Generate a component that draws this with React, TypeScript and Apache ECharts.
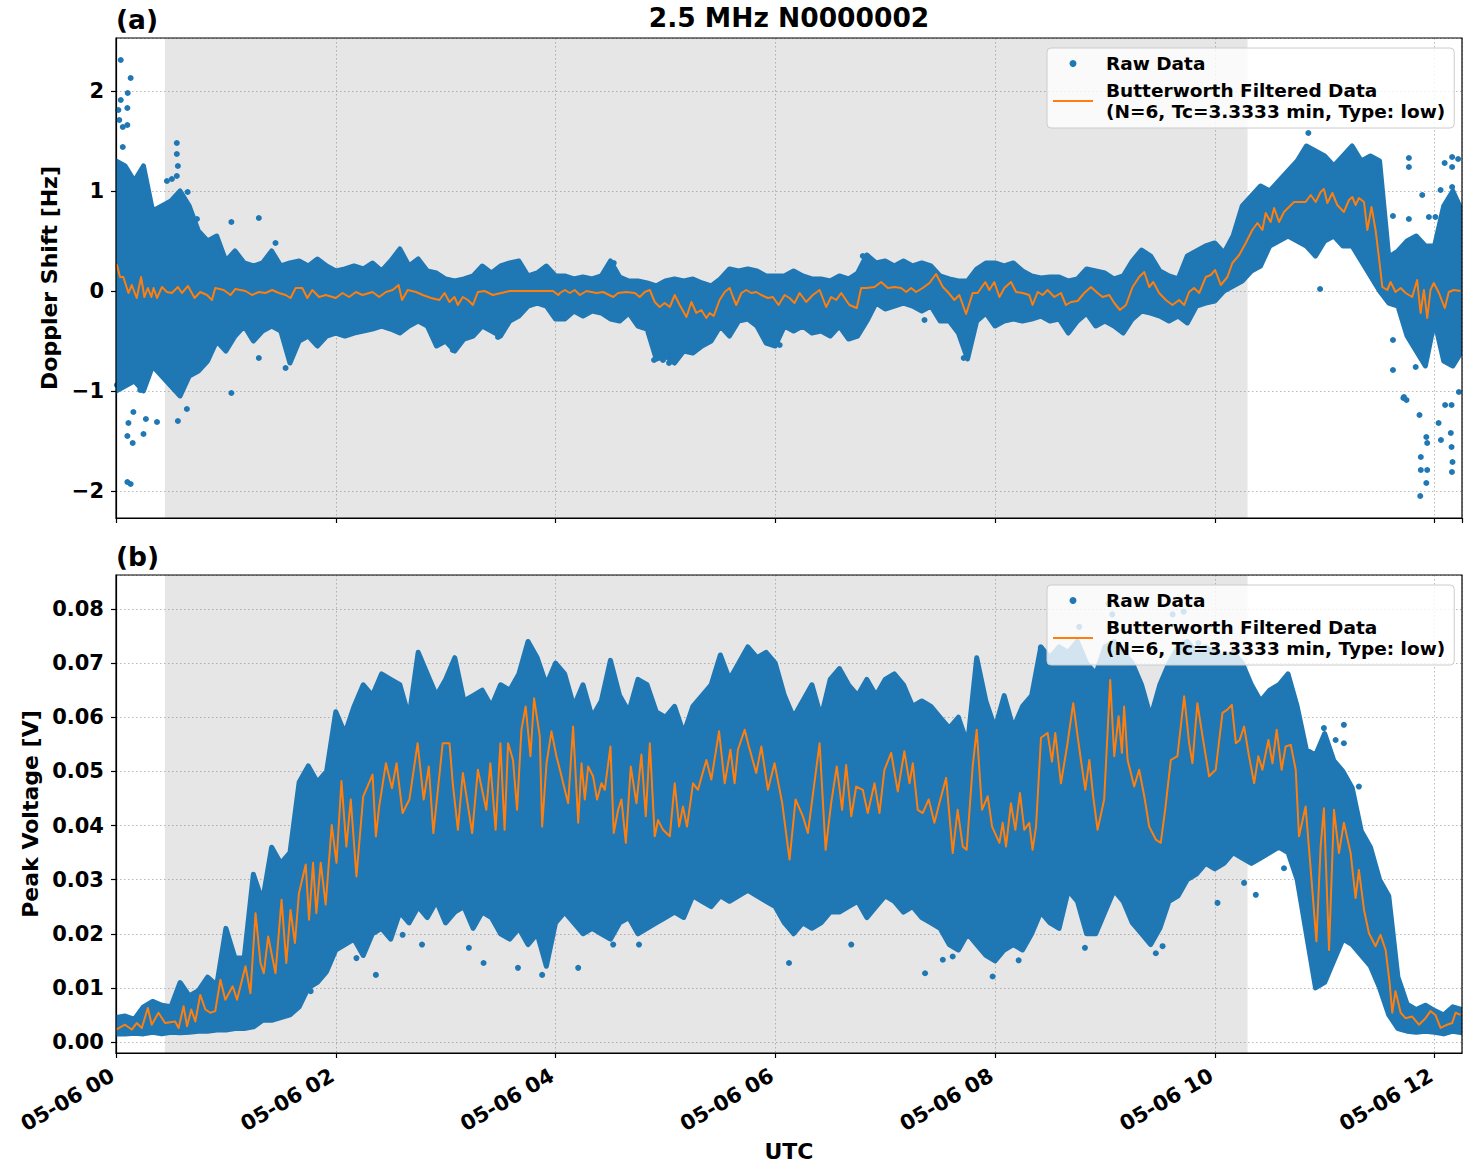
import React, { useEffect, useRef } from 'react';
import * as echarts from 'echarts';

const BLUE = '#1f77b4';
const ORANGE = '#ff7f0e';
const FONT = 'DejaVu Sans';

const TITLE = '2.5 MHz N0000002';
const RAW_NAME = 'Raw Data';
const FILT_NAME = 'Butterworth Filtered Data\n(N=6, Tc=3.3333 min, Type: low)';

// x axis runs in minutes after 05-06 00:00 UTC
const X_MIN = 0;
const X_MAX = 735;
const X_TICK_STEP = 120;
const X_TICK_LABELS = ['05-06 00', '05-06 02', '05-06 04', '05-06 06', '05-06 08', '05-06 10', '05-06 12'];
// shaded interval (minutes)
const SHADE_START = 26.7;
const SHADE_END = 617.9;

// dense raw-data envelope, one value per 5-minute bin starting at 00:00
const BIN_MINUTES = 5;

// (a) Doppler shift [Hz]
const DOPPLER_HIGH = [
  1.3, 1.25, 1.1, 1.25, 0.8, 0.85, 0.9, 1.0, 0.85, 0.6, 0.5, 0.55, 0.3, 0.4, 0.28, 0.25, 0.28, 0.4, 0.25, 0.28,
  0.3, 0.25, 0.32, 0.25, 0.2, 0.22, 0.25, 0.22, 0.28, 0.2, 0.3, 0.42, 0.25, 0.32, 0.2, 0.18, 0.12, 0.1, 0.12, 0.15,
  0.25, 0.18, 0.25, 0.28, 0.3, 0.15, 0.18, 0.25, 0.15,
  0.15, 0.12, 0.14, 0.12, 0.15, 0.3, 0.14, 0.1, 0.1, 0.08, 0.05, 0.1, 0.12, 0.1, 0.12, 0.08, 0.05, 0.12, 0.22, 0.2,
  0.22, 0.2, 0.15, 0.15, 0.15, 0.2, 0.15, 0.12, 0.12, 0.1, 0.15, 0.12, 0.18, 0.36, 0.28, 0.3, 0.25, 0.3, 0.25, 0.28,
  0.25, 0.15, 0.12, 0.1, 0.1, 0.22, 0.28, 0.28, 0.25, 0.28,
  0.2, 0.15, 0.13, 0.14, 0.14, 0.1, 0.12, 0.22, 0.2, 0.18, 0.12, 0.15, 0.3, 0.41, 0.35, 0.2, 0.15, 0.12, 0.35, 0.4,
  0.45, 0.48, 0.38, 0.55, 0.85, 0.95, 1.05, 1.0, 1.1, 1.2, 1.3, 1.45, 1.4, 1.35, 1.25, 1.35, 1.45, 1.3, 1.35, 1.3,
  0.34, 0.4, 0.5, 0.55, 0.45, 0.45, 0.85, 1.0, 0.8,
];
const DOPPLER_LOW = [
  -1.0, -0.95, -0.9, -1.0, -0.75, -0.85, -0.95, -1.05, -0.85, -0.8, -0.7, -0.5, -0.6, -0.45, -0.35, -0.5, -0.4, -0.35, -0.4, -0.72,
  -0.5, -0.45, -0.55, -0.45, -0.42, -0.45, -0.42, -0.4, -0.38, -0.35, -0.38, -0.42, -0.35, -0.3, -0.35, -0.55, -0.5, -0.6, -0.48, -0.45,
  -0.35, -0.4, -0.45, -0.3, -0.25, -0.15, -0.12, -0.15, -0.28,
  -0.28, -0.2, -0.25, -0.2, -0.22, -0.28, -0.3, -0.22, -0.35, -0.38, -0.68, -0.65, -0.72, -0.6, -0.62, -0.55, -0.5, -0.35, -0.45, -0.3,
  -0.28, -0.35, -0.52, -0.55, -0.35, -0.4, -0.35, -0.42, -0.4, -0.45, -0.35, -0.48, -0.45, -0.3, -0.12, -0.18, -0.15, -0.12, -0.15, -0.2,
  -0.15, -0.3, -0.3, -0.42, -0.68, -0.3, -0.22, -0.35, -0.3, -0.28,
  -0.3, -0.28, -0.25, -0.3, -0.28, -0.42, -0.3, -0.22, -0.35, -0.3, -0.35, -0.42, -0.28, -0.2, -0.22, -0.25, -0.3, -0.25, -0.32, -0.15,
  -0.12, -0.1, 0.0, 0.05, 0.1, 0.2, 0.25, 0.45, 0.5, 0.55, 0.5, 0.45, 0.35, 0.5, 0.55, 0.45, 0.45, 0.3, 0.15, 0.0,
  -0.12, -0.15, -0.45, -0.6, -0.75, -0.3, -0.7, -0.75, -0.6,
];
// scattered raw points outside the dense envelope [minute, Hz]
const DOPPLER_SCATTER = [
  [2.6, 2.31], [8.0, 2.13], [6.4, 1.98], [2.6, 1.91], [1.3, 1.81], [6.2, 1.83], [1.8, 1.71], [3.7, 1.64], [6.2, 1.66],
  [3.7, 1.44], [33.2, 1.48], [33.2, 1.37], [33.8, 1.25], [33.2, 1.15], [27.8, 1.1], [30.5, 1.12], [39.1, 0.99],
  [44.2, 0.72], [78.0, 0.73], [63.0, 0.69], [87.1, 0.48], [19.5, 0.83],
  [6.8, -1.32], [9.1, -1.52], [6.2, -1.45], [15.0, -1.43], [22.4, -1.31], [33.8, -1.3], [38.7, -1.18], [16.3, -1.28],
  [9.5, -1.21], [6.2, -1.91], [8.0, -1.93], [63.0, -1.02], [78.0, -0.67], [92.6, -0.77], [183.9, -0.59], [208.6, -0.46],
  [13.2, -0.99], [0.5, -0.94],
  [293.8, -0.69], [302.0, -0.72], [298.7, -0.69], [462.9, -0.67], [362.4, -0.54], [356.0, -0.52], [271.8, 0.28],
  [407.8, 0.35], [441.5, -0.29],
  [651.1, 1.58], [657.5, 0.02], [706.0, 1.33], [706.0, 1.24], [713.3, 0.96], [706.0, 0.72], [697.3, 0.75], [697.3, -0.49],
  [697.3, -0.79], [703.0, -1.07], [704.7, -1.09], [711.8, -1.24], [715.5, -1.46], [716.0, -1.52], [712.5, -1.66],
  [712.5, -1.79], [716.0, -1.79], [715.5, -1.92], [712.2, -2.05], [725.5, 1.28], [729.6, 1.24], [729.6, 1.34],
  [732.9, 1.32], [723.3, 1.01], [729.6, 1.04], [725.8, -1.14], [729.3, -1.14], [722.2, -1.32], [723.5, -1.49],
  [728.9, -1.42], [729.3, -1.56], [729.8, -1.71], [729.5, -1.81], [733.3, -1.01], [722.4, -0.46], [709.7, -0.76],
  [703.3, -1.06], [716.9, 0.74], [720.5, 0.74],
];
// low-pass filtered Doppler shift [minute, Hz]
const DOPPLER_FILTERED = [
  [0, 0.24], [0.5, 0.26], [2.2, 0.14], [4.0, 0.14], [6.8, -0.02], [8.6, 0.06], [11.3, -0.07], [13.7, 0.14], [15.5, -0.06],
  [17.4, 0.03], [19.3, -0.06], [20.5, 0.03], [22.4, -0.07], [25.1, 0.04], [27.8, -0.01], [30.5, -0.02], [33.8, 0.04],
  [36.0, -0.02], [39.3, 0.05], [42.9, -0.07], [46.0, -0.01], [49.7, -0.04], [52.4, -0.09], [54.2, 0.03], [58.8, 0.01],
  [62.5, -0.04], [65.2, 0.02], [70.7, 0.0], [74.3, -0.04], [78.0, -0.01], [81.6, -0.02], [85.3, 0.01], [89.0, -0.02],
  [92.6, -0.04], [95.3, -0.07], [98.1, 0.03], [101.7, 0.03], [104.5, -0.07], [107.2, 0.01], [110.9, -0.06], [114.5, -0.04],
  [120.0, -0.07], [123.7, -0.02], [127.3, -0.06], [131.0, -0.01], [134.6, -0.04], [140.1, -0.01], [143.7, -0.06],
  [147.4, -0.01], [151.1, 0.01], [154.3, 0.06], [156.2, -0.09], [159.3, 0.01], [163.8, -0.01], [167.5, -0.04],
  [172.1, -0.07], [176.6, -0.09], [179.4, -0.02], [182.1, -0.11], [184.8, -0.06], [186.7, -0.14], [189.4, -0.06],
  [192.1, -0.09], [194.9, -0.14], [197.6, -0.01], [201.3, 0.0], [205.8, -0.04], [210.4, -0.02], [215.0, 0.0],
  [220.5, 0.0], [225.9, 0.0], [233.2, 0.0], [238.7, 0.0], [241.5, -0.04],
  [242.4, -0.02], [245.1, 0.01], [247.8, -0.02], [250.5, 0.01], [253.3, -0.04], [256.9, 0.0], [262.4, -0.02], [266.0, -0.01],
  [271.5, -0.06], [274.2, -0.02], [278.7, -0.01], [283.3, -0.02], [286.0, -0.06], [288.7, -0.01], [291.5, 0.01],
  [294.2, -0.11], [296.9, -0.16], [299.6, -0.12], [302.4, -0.16], [305.1, -0.04], [307.8, -0.14], [311.5, -0.26],
  [314.2, -0.11], [316.9, -0.22], [319.6, -0.19], [322.4, -0.27], [324.2, -0.22], [326.4, -0.25], [329.6, -0.09],
  [332.4, -0.01], [335.1, 0.03], [336.9, -0.06], [338.7, -0.14], [341.5, -0.02], [344.2, 0.01], [346.9, -0.02],
  [349.6, -0.01], [352.4, -0.04], [356.0, -0.07], [358.7, -0.06], [361.8, -0.14], [365.1, -0.04], [367.8, -0.07],
  [370.5, -0.12], [373.3, -0.02], [376.9, -0.11], [380.5, -0.04], [384.2, 0.01], [387.8, -0.16], [390.5, -0.06],
  [393.3, -0.09], [396.0, -0.02], [400.5, -0.14], [404.5, -0.17], [406.9, 0.03], [409.6, 0.03], [414.2, 0.04],
  [417.8, 0.09], [421.5, 0.03], [425.1, 0.04], [428.7, 0.03], [431.5, -0.01], [434.2, 0.03], [436.9, -0.01],
  [440.5, 0.03], [444.2, 0.08], [447.8, 0.17], [451.5, 0.04], [454.2, -0.01], [457.8, -0.09], [460.5, -0.04],
  [464.2, -0.23], [467.8, -0.02], [470.5, -0.02], [474.7, 0.09], [476.9, 0.01], [479.6, 0.09],
  [482.4, -0.06], [485.1, 0.03], [488.7, 0.09], [491.5, -0.01], [495.1, -0.02], [498.7, -0.04], [500.5, -0.14],
  [503.3, -0.01], [506.0, -0.04], [508.7, 0.01], [512.4, -0.06], [516.0, -0.02], [518.7, -0.14], [521.5, -0.11],
  [525.1, -0.1], [528.7, -0.02], [532.4, 0.04], [536.0, -0.02], [538.7, -0.06], [542.4, -0.04], [545.1, -0.12],
  [548.2, -0.19], [551.5, -0.14], [555.1, 0.04], [558.7, 0.14], [561.5, 0.19], [564.2, 0.04], [566.4, 0.09],
  [569.6, -0.02], [573.3, -0.09], [576.9, -0.14], [580.5, -0.09], [583.3, -0.14], [586.0, -0.01], [588.7, 0.03],
  [591.5, -0.02], [595.1, 0.14], [597.8, 0.16], [600.2, 0.21], [603.3, 0.06], [606.9, 0.14], [609.6, 0.28],
  [613.3, 0.36], [616.9, 0.48], [620.5, 0.61], [623.3, 0.68], [626.0, 0.61], [627.8, 0.78], [630.5, 0.69],
  [632.4, 0.83], [635.1, 0.69], [637.8, 0.79], [640.5, 0.84], [643.3, 0.89], [646.9, 0.89], [649.6, 0.89],
  [652.4, 0.96], [655.1, 0.89], [657.8, 0.99], [659.6, 1.02], [661.5, 0.88], [664.2, 0.98], [666.9, 0.86],
  [670.5, 0.79], [673.3, 0.91], [675.1, 0.94], [676.9, 0.86], [678.7, 0.93], [681.5, 0.89], [683.3, 0.61],
  [685.6, 0.84], [687.8, 0.61], [689.6, 0.34], [691.5, 0.04], [694.2, 0.01], [696.0, 0.09], [698.7, -0.01],
  [701.5, 0.03], [704.2, -0.02], [707.8, -0.06], [710.5, 0.11], [712.4, -0.22], [714.2, 0.01], [716.0, -0.27],
  [717.8, 0.01], [719.6, 0.08], [722.4, -0.02], [725.6, -0.17], [727.8, -0.01], [730.5, 0.01], [734.2, 0.0],
];

// (b) Peak voltage [V]
const VOLTAGE_HIGH = [
  0.0045, 0.0048, 0.0042, 0.0065, 0.0075, 0.0068, 0.0065, 0.011, 0.0085, 0.0095, 0.012, 0.0105, 0.021, 0.0155, 0.0155, 0.031, 0.026, 0.036, 0.033, 0.035,
  0.048, 0.051, 0.048, 0.05, 0.061, 0.057, 0.062, 0.066, 0.064, 0.068, 0.067, 0.066, 0.06, 0.072, 0.068, 0.064, 0.067, 0.071, 0.063, 0.064,
  0.065, 0.062, 0.066, 0.065, 0.068, 0.074, 0.071, 0.066, 0.07,
  0.068, 0.062, 0.066, 0.06, 0.063, 0.0705, 0.064, 0.061, 0.067, 0.066, 0.061, 0.06, 0.062, 0.057, 0.062, 0.064, 0.066, 0.0715, 0.067, 0.07,
  0.073, 0.071, 0.072, 0.07, 0.064, 0.06, 0.063, 0.066, 0.06, 0.067, 0.069, 0.066, 0.064, 0.067, 0.064, 0.067, 0.068, 0.066, 0.062, 0.063,
  0.062, 0.06, 0.058, 0.06, 0.055, 0.071, 0.063, 0.058, 0.064, 0.058,
  0.062, 0.064, 0.073, 0.071, 0.073, 0.072, 0.074, 0.07, 0.068, 0.073, 0.074, 0.072, 0.07, 0.066, 0.06, 0.066, 0.07, 0.073, 0.074, 0.072,
  0.073, 0.072, 0.071, 0.072, 0.07, 0.066, 0.063, 0.065, 0.066, 0.068, 0.062, 0.054, 0.053, 0.057, 0.052, 0.05, 0.047, 0.039, 0.036, 0.03,
  0.027, 0.012, 0.007, 0.006, 0.0068, 0.0058, 0.005, 0.0065, 0.006,
];
const VOLTAGE_LOW = [
  0.0015, 0.0015, 0.0016, 0.0015, 0.0018, 0.0015, 0.0018, 0.0017, 0.0018, 0.002, 0.002, 0.0022, 0.0022, 0.0025, 0.0025, 0.0028, 0.004, 0.004, 0.0045, 0.005,
  0.0065, 0.01, 0.011, 0.013, 0.017, 0.018, 0.019, 0.016, 0.02, 0.021, 0.019, 0.024, 0.022, 0.025, 0.023, 0.026, 0.022, 0.024, 0.025, 0.021,
  0.024, 0.023, 0.02, 0.019, 0.021, 0.018, 0.02, 0.014, 0.022,
  0.024, 0.022, 0.02, 0.021, 0.02, 0.019, 0.022, 0.023, 0.02, 0.021, 0.022, 0.023, 0.024, 0.023, 0.027, 0.026, 0.025, 0.027, 0.026, 0.027,
  0.028, 0.027, 0.026, 0.025, 0.022, 0.02, 0.022, 0.021, 0.022, 0.024, 0.024, 0.025, 0.026, 0.023, 0.025, 0.027, 0.026, 0.024, 0.025, 0.023,
  0.022, 0.021, 0.018, 0.017, 0.02, 0.018, 0.016, 0.015, 0.017, 0.018,
  0.017, 0.02, 0.024, 0.022, 0.021, 0.028, 0.026, 0.02, 0.02, 0.024, 0.028, 0.026, 0.022, 0.02, 0.018, 0.021, 0.026, 0.027, 0.03, 0.031,
  0.033, 0.032, 0.033, 0.035, 0.034, 0.033, 0.034, 0.035, 0.036, 0.035, 0.03, 0.02, 0.01, 0.011, 0.015, 0.019, 0.018, 0.016, 0.014, 0.01,
  0.005, 0.0025, 0.002, 0.0018, 0.002, 0.0018, 0.0015, 0.002, 0.0017,
];
const VOLTAGE_SCATTER = [
  [141.9, 0.0124], [131.3, 0.0155], [106.3, 0.0094], [192.7, 0.0174], [200.7, 0.0146], [219.5, 0.0137], [232.7, 0.0124],
  [167.1, 0.018], [156.5, 0.0198], [252.4, 0.0137], [271.5, 0.018], [285.6, 0.018], [367.5, 0.0146], [441.8, 0.0127],
  [451.5, 0.0152], [478.7, 0.0121], [401.5, 0.018], [456.9, 0.0158], [492.9, 0.0151], [529.1, 0.0174], [567.8, 0.0164],
  [571.5, 0.0177], [601.5, 0.0257], [622.4, 0.0272], [616.0, 0.0294], [637.8, 0.0321], [678.7, 0.0472], [670.5, 0.0586],
  [670.5, 0.0552], [666.0, 0.0558], [659.6, 0.058], [526.0, 0.0767], [542.0, 0.081], [577.0, 0.079], [583.0, 0.0795],
  [505.0, 0.0728], [544.0, 0.079], [591.0, 0.0737],
];
const VOLTAGE_FILTERED = [
  [0, 0.0023], [4.9, 0.0032], [8.6, 0.0023], [11.3, 0.0035], [14.1, 0.0026], [17.4, 0.0063], [19.5, 0.0032], [23.2, 0.0054],
  [26.8, 0.0035], [32.3, 0.0038], [34.2, 0.0026], [36.9, 0.0066], [38.8, 0.0029], [41.1, 0.006], [43.3, 0.0038], [46.0, 0.0087],
  [48.8, 0.006], [51.5, 0.0054], [54.2, 0.0057], [57.0, 0.0115], [59.7, 0.0078], [63.7, 0.0103], [66.1, 0.0078], [70.7, 0.014],
  [73.4, 0.009], [76.2, 0.0238], [78.9, 0.0146], [80.7, 0.0127], [83.1, 0.0195], [87.1, 0.0127], [90.4, 0.0263], [93.0, 0.0146],
  [95.3, 0.0244], [97.7, 0.0183], [99.9, 0.0275], [103.6, 0.0328], [105.4, 0.0226], [107.6, 0.0331], [109.4, 0.0238],
  [111.8, 0.0331], [114.5, 0.0254], [117.8, 0.0401], [120.4, 0.0331], [123.1, 0.0482], [125.8, 0.0361], [128.2, 0.0448],
  [131.3, 0.0306], [135.0, 0.0454], [140.1, 0.0494], [141.9, 0.038], [143.7, 0.0435], [147.4, 0.0515], [150.7, 0.0469],
  [153.2, 0.0515], [156.5, 0.0423], [160.2, 0.0448], [164.7, 0.0552], [168.0, 0.0448], [170.8, 0.0509], [173.3, 0.0386],
  [178.4, 0.0552], [182.1, 0.0552], [183.9, 0.0478], [186.7, 0.0392], [189.4, 0.0497], [194.5, 0.0386], [197.6, 0.0503],
  [202.2, 0.0429], [204.4, 0.0515], [207.3, 0.0392], [209.9, 0.0552], [212.2, 0.0392], [214.1, 0.0552], [216.8, 0.0521],
  [219.0, 0.0429], [221.4, 0.0577], [223.7, 0.062], [226.3, 0.0528], [228.3, 0.0635], [231.4, 0.0565], [232.7, 0.0398],
  [235.1, 0.0515], [237.8, 0.0574], [240.5, 0.0528],
  [242.4, 0.0503], [244.2, 0.0478], [246.9, 0.0441], [249.6, 0.0583], [252.4, 0.0405], [254.2, 0.0515], [256.0, 0.0448],
  [257.8, 0.0509], [260.5, 0.0491], [262.7, 0.0448], [265.1, 0.0478], [266.9, 0.0466], [270.0, 0.0546], [271.8, 0.0386],
  [274.2, 0.0429], [276.0, 0.0448], [278.4, 0.0368], [281.1, 0.0509], [284.2, 0.0441], [286.9, 0.0531], [289.3, 0.0417],
  [291.5, 0.0552], [294.2, 0.038], [296.0, 0.041], [298.7, 0.0392], [302.4, 0.038], [305.1, 0.0478], [307.5, 0.0398],
  [309.6, 0.0435], [311.8, 0.0398], [315.1, 0.0478], [317.8, 0.0466], [319.6, 0.0488], [322.4, 0.0521], [325.1, 0.0485],
  [329.3, 0.0574], [332.4, 0.0478], [335.5, 0.054], [337.8, 0.0478], [339.6, 0.054], [343.3, 0.0577], [345.6, 0.0546],
  [349.6, 0.0497], [352.4, 0.0546], [356.0, 0.0466], [359.6, 0.0515], [363.8, 0.0441], [367.8, 0.0337], [371.1, 0.0448],
  [375.1, 0.0417], [377.8, 0.0386], [384.2, 0.0552], [387.5, 0.0355], [390.5, 0.0441], [393.6, 0.0509], [396.5, 0.0429],
  [398.7, 0.0512], [401.5, 0.0417], [404.2, 0.0472], [407.8, 0.0466], [410.5, 0.0423], [414.2, 0.0478], [416.9, 0.0423],
  [419.6, 0.0503], [423.3, 0.0534], [426.9, 0.0463], [430.5, 0.0537], [433.3, 0.0478], [435.1, 0.0515], [437.8, 0.0429],
  [440.5, 0.0423], [443.8, 0.0448], [446.9, 0.0405], [449.6, 0.0441], [453.3, 0.0488], [456.9, 0.0349], [459.6, 0.0429],
  [462.4, 0.0361], [464.5, 0.0355], [467.8, 0.0509], [470.0, 0.0577], [472.9, 0.0429], [476.0, 0.0454], [478.4, 0.0398],
  [482.4, 0.0368], [484.2, 0.0405], [486.0, 0.0361], [488.7, 0.0441], [491.1, 0.0392], [493.6, 0.046], [496.0, 0.0392],
  [498.7, 0.0405], [500.5, 0.0355], [502.4, 0.0398], [505.1, 0.0562], [508.7, 0.0571], [511.1, 0.0518], [512.9, 0.0571],
  [516.0, 0.0478], [519.6, 0.0552], [522.7, 0.0626], [525.1, 0.0565], [526.9, 0.0521], [529.3, 0.0466], [531.5, 0.0521],
  [533.6, 0.0454], [536.0, 0.0392], [539.6, 0.0448], [542.9, 0.0669], [545.1, 0.0528], [547.5, 0.0602], [549.3, 0.0534],
  [550.5, 0.062], [552.4, 0.0521], [556.0, 0.0472], [558.7, 0.0503], [561.5, 0.0454], [564.2, 0.0398], [567.8, 0.0374],
  [570.5, 0.0368], [572.9, 0.0429], [576.0, 0.0521], [579.6, 0.0528], [583.3, 0.0639], [586.0, 0.0552], [587.8, 0.0515],
  [590.5, 0.0626], [593.3, 0.0565], [596.9, 0.0491], [600.5, 0.0503], [604.2, 0.0608], [606.9, 0.0614], [609.3, 0.0623],
  [611.5, 0.0552], [613.6, 0.0558], [616.0, 0.0583], [618.7, 0.0528], [621.5, 0.0478], [623.8, 0.0528], [626.0, 0.0503],
  [629.3, 0.0558], [631.5, 0.0515], [633.8, 0.0577], [636.5, 0.0503], [638.7, 0.0546], [641.5, 0.0549], [644.2, 0.0503],
  [646.0, 0.038], [649.6, 0.0435], [652.4, 0.0318], [655.5, 0.0186], [657.8, 0.0361], [659.6, 0.0432], [662.4, 0.017],
  [665.1, 0.0429], [667.8, 0.0349], [670.5, 0.0405], [674.2, 0.0349], [676.9, 0.0266], [678.7, 0.0318], [681.5, 0.0244],
  [684.2, 0.0201], [687.8, 0.0177], [690.5, 0.0198], [693.3, 0.017], [695.5, 0.0109], [696.9, 0.0054], [698.7, 0.0094],
  [701.5, 0.0054], [704.2, 0.0044], [707.8, 0.0047], [711.5, 0.0032], [715.1, 0.0044], [717.8, 0.0057], [720.5, 0.005],
  [723.3, 0.0026], [726.9, 0.0032], [729.6, 0.0035], [731.5, 0.0054], [734.2, 0.005],
];

// layout of the two panels (px)
const PLOT_LEFT = 116;
const PLOT_WIDTH = 1346;
const PANELS = [
  { top: 38, height: 480 },
  { top: 575, height: 478 },
];

const TICK_FONT = 21;
const NAME_FONT = 22;
const TITLE_FONT = 26.5;
const LEGEND_FONT = 18.5;

const boldText = (size: number) => ({
  fontFamily: FONT,
  fontWeight: 'bold' as const,
  fontSize: size,
  color: '#000',
});

const isMultiple = (v: number, step: number) => Math.abs(v / step - Math.round(v / step)) < 1e-6;
const fmtSigned = (v: number, digits: number) => {
  const s = Math.abs(v).toFixed(digits);
  return v < -1e-12 ? '\u2212' + s : s;
};

// dense part of the raw data: one filled polygon between the low and high envelopes
function bandSeries(idx: number, low: number[], high: number[]) {
  return {
    type: 'custom',
    name: RAW_NAME,
    xAxisIndex: idx,
    yAxisIndex: idx,
    silent: true,
    clip: true,
    z: 3,
    itemStyle: { color: BLUE },
    data: low.map((v, i) => [i * BIN_MINUTES, v, high[i]]),
    encode: { x: 0, y: [1, 2] },
    renderItem: (params: any, api: any) => {
      if (params.dataIndex !== 0) return null;
      const upper = high.map((v, i) => api.coord([i * BIN_MINUTES, v]));
      const lower = low.map((v, i) => api.coord([i * BIN_MINUTES, v])).reverse();
      return {
        type: 'polygon',
        shape: { points: upper.concat(lower) },
        style: { fill: BLUE, stroke: BLUE, lineWidth: 5, lineJoin: 'round' },
      };
    },
  };
}

function panelSeries(idx: number, low: number[], high: number[], scatter: number[][], filtered: number[][]) {
  return [
    {
      type: 'line',
      name: 'shade' + idx,
      xAxisIndex: idx,
      yAxisIndex: idx,
      data: [],
      silent: true,
      z: 1,
      markArea: {
        silent: true,
        itemStyle: { color: 'rgba(128,128,128,0.2)' },
        data: [[{ xAxis: SHADE_START }, { xAxis: SHADE_END }]],
      },
    },
    bandSeries(idx, low, high),
    {
      type: 'scatter',
      name: RAW_NAME,
      xAxisIndex: idx,
      yAxisIndex: idx,
      data: scatter,
      symbolSize: 6,
      silent: true,
      z: 3,
      itemStyle: { color: BLUE, opacity: 1 },
    },
    {
      type: 'line',
      name: FILT_NAME,
      xAxisIndex: idx,
      yAxisIndex: idx,
      data: filtered,
      symbol: 'none',
      showSymbol: false,
      silent: true,
      z: 4,
      itemStyle: { color: ORANGE },
      lineStyle: { color: ORANGE, width: 2, join: 'round' },
    },
  ];
}

function xAxis(idx: number) {
  return {
    type: 'value',
    gridIndex: idx,
    min: X_MIN,
    max: X_MAX,
    interval: X_TICK_STEP,
    name: idx === 1 ? 'UTC' : '',
    nameLocation: 'middle',
    nameGap: 87,
    nameTextStyle: boldText(NAME_FONT),
    axisLine: { show: true, onZero: false, lineStyle: { color: '#000', width: 1.2 } },
    axisTick: { show: true, length: 5, lineStyle: { color: '#000', width: 1.2 } },
    axisLabel: {
      show: idx === 1,
      rotate: 30,
      margin: 19,
      padding: [0, 4, 0, 0],
      ...boldText(TICK_FONT),
      showMaxLabel: false,
      formatter: (v: number) => (isMultiple(v, X_TICK_STEP) ? X_TICK_LABELS[Math.round(v / X_TICK_STEP)] ?? '' : ''),
    },
    splitLine: { show: true, lineStyle: { color: '#b0b0b0', width: 0.9, type: [1.5, 2.5] } },
  };
}

function yAxis(idx: number, min: number, max: number, step: number, digits: number, name: string, nameGap: number) {
  return {
    type: 'value',
    gridIndex: idx,
    min,
    max,
    minInterval: step,
    maxInterval: step,
    splitNumber: Math.round((max - min) / step),
    name,
    nameLocation: 'middle',
    nameRotate: 90,
    nameGap,
    nameTextStyle: boldText(NAME_FONT),
    axisLine: { show: true, onZero: false, lineStyle: { color: '#000', width: 1.2 } },
    axisTick: { show: true, length: 5, lineStyle: { color: '#000', width: 1.2 } },
    axisLabel: {
      ...boldText(TICK_FONT),
      margin: 12,
      showMinLabel: false,
      showMaxLabel: false,
      formatter: (v: number) => (isMultiple(v, step) ? fmtSigned(Math.round(v / step) * step, digits) : ''),
    },
    splitLine: { show: true, lineStyle: { color: '#b0b0b0', width: 0.9, type: [1.5, 2.5] } },
  };
}

function legend(top: number) {
  return {
    show: true,
    orient: 'vertical',
    left: 1047,
    top,
    padding: [5, 9, 6, 6],
    itemGap: 6,
    itemWidth: 40,
    itemHeight: 7,
    backgroundColor: 'rgba(255,255,255,0.8)',
    borderColor: '#cccccc',
    borderWidth: 1,
    borderRadius: 4,
    selectedMode: false,
    z: 20,
    itemStyle: { borderWidth: 0 },
    textStyle: { ...boldText(LEGEND_FONT), lineHeight: 21, padding: [0, 0, 0, 8] },
    data: [
      { name: RAW_NAME, icon: 'circle', itemStyle: { color: BLUE } },
      { name: FILT_NAME, icon: 'path://M0,0H40V2H0Z', itemStyle: { color: ORANGE } },
    ],
  };
}

function buildOption() {
  return {
    animation: false,
    backgroundColor: '#fff',
    title: [
      { text: TITLE, left: PLOT_LEFT + PLOT_WIDTH / 2, textAlign: 'center', top: 4, padding: 0, textStyle: boldText(TITLE_FONT) },
      { text: '(a)', left: PLOT_LEFT, top: 6, padding: 0, textStyle: boldText(TITLE_FONT) },
      { text: '(b)', left: PLOT_LEFT, top: 543, padding: 0, textStyle: boldText(TITLE_FONT) },
    ],
    legend: [legend(48), legend(585)],
    grid: PANELS.map((p) => ({
      left: PLOT_LEFT,
      top: p.top,
      width: PLOT_WIDTH,
      height: p.height,
      containLabel: false,
      show: false,
    })),
    xAxis: [xAxis(0), xAxis(1)],
    yAxis: [
      yAxis(0, -2.27, 2.53, 1, 0, 'Doppler Shift [Hz]', 51),
      yAxis(1, -0.00203, 0.08628, 0.01, 2, 'Peak Voltage [V]', 72),
    ],
    graphic: PANELS.map((p) => ({
      type: 'rect',
      z: 50,
      silent: true,
      shape: { x: PLOT_LEFT, y: p.top, width: PLOT_WIDTH, height: p.height },
      style: { fill: 'none', stroke: '#000', lineWidth: 1.2 },
    })),
    series: [
      ...panelSeries(0, DOPPLER_LOW, DOPPLER_HIGH, DOPPLER_SCATTER, DOPPLER_FILTERED),
      ...panelSeries(1, VOLTAGE_LOW, VOLTAGE_HIGH, VOLTAGE_SCATTER, VOLTAGE_FILTERED),
    ],
  };
}

export default function App() {
  const ref = useRef<HTMLDivElement>(null);
  useEffect(() => {
    document.body.style.margin = '0';
    if (!ref.current) return;
    const chart = echarts.init(ref.current, undefined, { renderer: 'svg' });
    chart.setOption(buildOption() as any);
    return () => chart.dispose();
  }, []);
  return <div ref={ref} style={{ width: 1471, height: 1172 }} />;
}
